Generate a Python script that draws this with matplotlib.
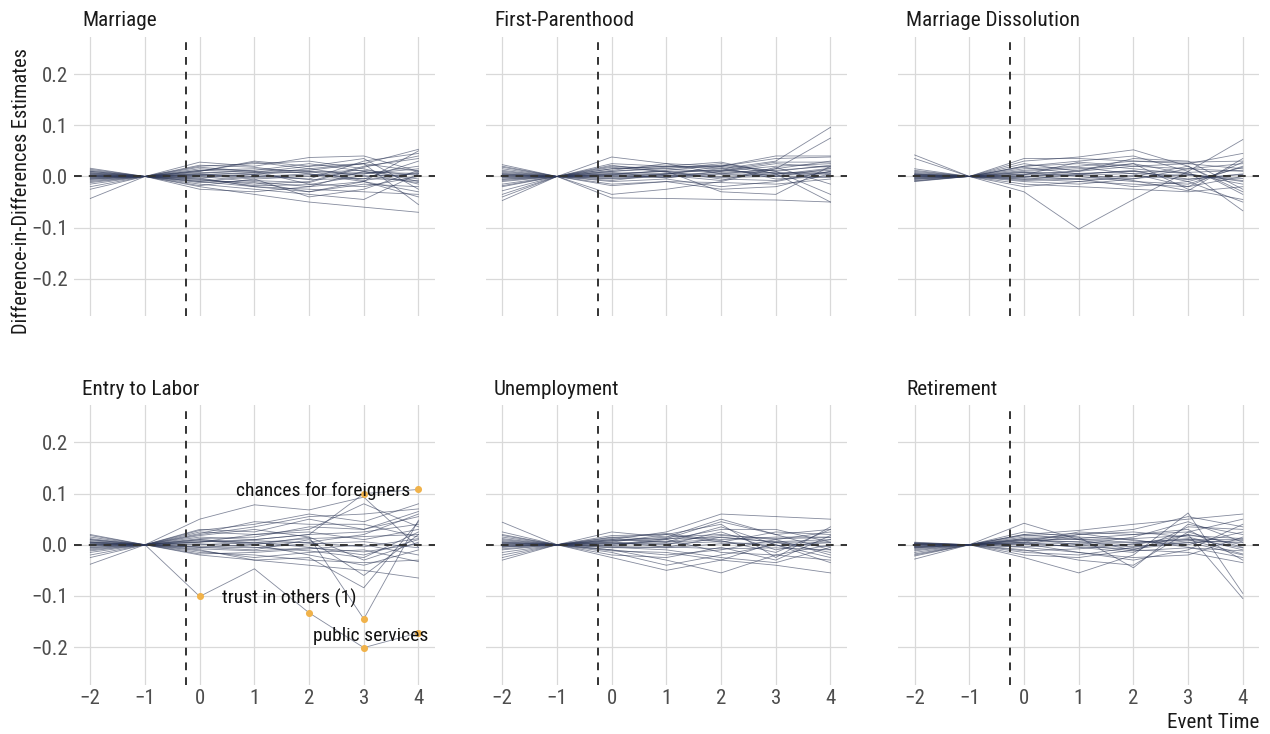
import matplotlib
matplotlib.use("Agg")
import matplotlib.pyplot as plt
from matplotlib import font_manager

names = {f.name for f in font_manager.fontManager.ttflist}
for cand in ["Roboto Condensed", "Liberation Sans Narrow", "Roboto"]:
    if cand in names:
        FONT = cand
        break
else:
    FONT = "DejaVu Sans"
plt.rcParams["font.family"] = [FONT, "DejaVu Sans"]

event_time = [-2, -1, 0, 1, 2, 3, 4]
panel_titles = ["Marriage", "First-Parenthood", "Marriage Dissolution",
                "Entry to Labor", "Unemployment", "Retirement"]
x_tick_labels = ["\u22122", "\u22121", "0", "1", "2", "3", "4"]
y_ticks = [-0.2, -0.1, 0.0, 0.1, 0.2]
y_tick_labels = ["\u22120.2", "\u22120.1", "0.0", "0.1", "0.2"]

marriage = [
    [0.016, 0, 0.018, 0.010, 0.012, 0.025, 0.053],
    [-0.043, 0, -0.010, -0.020, -0.030, -0.010, 0.050],
    [0.010, 0, 0.028, 0.020, 0.037, 0.040, 0.010],
    [0.005, 0, 0.010, 0.030, 0.020, 0.025, -0.055],
    [-0.010, 0, -0.020, -0.035, -0.050, -0.060, -0.070],
    [0.002, 0, 0.005, 0.000, -0.005, 0.030, 0.045],
    [-0.005, 0, -0.015, -0.025, -0.035, -0.045, 0.005],
    [0.008, 0, 0.012, 0.015, 0.010, 0.005, 0.020],
    [-0.003, 0, 0.000, -0.010, -0.020, -0.010, -0.030],
    [0.012, 0, 0.020, 0.025, 0.030, 0.015, -0.010],
    [-0.020, 0, -0.005, -0.015, -0.010, 0.020, 0.035],
    [0.000, 0, 0.008, 0.005, 0.015, 0.025, 0.010],
    [-0.008, 0, -0.010, 0.000, 0.005, -0.010, -0.040],
    [0.004, 0, 0.015, 0.010, -0.015, -0.020, 0.000],
    [-0.012, 0, -0.025, -0.030, -0.020, 0.010, -0.005],
    [0.006, 0, 0.002, -0.005, 0.000, 0.005, 0.015],
    [-0.002, 0, -0.008, -0.012, -0.030, -0.015, -0.020],
    [0.010, 0, 0.022, 0.018, 0.005, -0.005, 0.030],
    [-0.015, 0, 0.003, 0.008, 0.020, 0.035, -0.025],
    [0.003, 0, -0.003, -0.020, -0.025, -0.030, -0.035],
    [-0.006, 0, 0.010, 0.028, 0.015, 0.000, 0.005],
    [0.001, 0, -0.012, -0.008, -0.012, 0.018, 0.040],
    [0.014, 0, 0.006, 0.012, 0.025, 0.010, -0.015],
    [-0.025, 0, -0.018, -0.005, -0.040, -0.025, 0.012],
    [0.002, 0, 0.004, -0.002, 0.003, 0.008, 0.006],
    [-0.004, 0, -0.003, 0.004, -0.006, -0.004, -0.008],
    [0.000, 0, 0.012, 0.008, 0.008, 0.012, 0.002],
    [-0.001, 0, -0.006, -0.018, -0.016, 0.002, -0.012],
    [0.007, 0, 0.001, 0.004, 0.010, -0.008, 0.008],
]

first_parenthood = [
    [0.020, 0, 0.025, 0.020, 0.015, 0.030, 0.096],
    [-0.047, 0, -0.042, -0.043, -0.045, -0.046, -0.050],
    [0.023, 0, 0.038, 0.025, 0.020, 0.035, 0.038],
    [-0.035, 0, -0.035, -0.025, -0.010, 0.015, 0.075],
    [0.010, 0, 0.015, 0.020, 0.028, 0.005, -0.050],
    [-0.020, 0, 0.005, 0.010, -0.030, -0.035, 0.020],
    [0.005, 0, 0.010, 0.018, 0.020, 0.040, 0.040],
    [-0.010, 0, -0.005, 0.000, 0.010, 0.020, 0.025],
    [0.015, 0, 0.020, 0.015, 0.025, 0.010, -0.035],
    [-0.005, 0, 0.000, 0.005, 0.015, 0.000, 0.015],
    [0.000, 0, -0.010, -0.005, -0.020, -0.010, 0.010],
    [-0.028, 0, -0.015, -0.010, -0.025, -0.020, 0.005],
    [0.008, 0, 0.012, 0.025, 0.005, 0.015, 0.030],
    [-0.015, 0, 0.008, -0.003, 0.010, 0.025, 0.018],
    [0.012, 0, 0.018, 0.010, -0.005, -0.008, 0.010],
    [-0.003, 0, 0.003, 0.012, 0.022, 0.010, 0.022],
    [0.003, 0, -0.018, -0.010, -0.012, -0.015, -0.005],
    [-0.040, 0, -0.008, 0.005, 0.000, 0.005, 0.012],
    [0.018, 0, 0.022, 0.008, 0.012, 0.028, 0.028],
    [-0.008, 0, 0.015, 0.020, 0.018, -0.005, 0.000],
    [0.002, 0, -0.002, 0.002, -0.008, 0.018, -0.015],
    [-0.018, 0, 0.010, 0.015, 0.008, 0.012, 0.020],
    [0.001, 0, 0.004, 0.006, 0.004, 0.002, 0.006],
    [-0.002, 0, 0.001, -0.002, 0.006, 0.008, 0.004],
    [0.004, 0, 0.006, 0.010, 0.012, 0.004, 0.016],
    [-0.006, 0, -0.004, 0.002, -0.002, 0.000, -0.002],
    [0.006, 0, 0.002, 0.004, 0.020, 0.006, 0.008],
]

marriage_dissolution = [
    [0.042, 0, -0.030, -0.103, -0.045, 0.010, 0.072],
    [0.035, 0, 0.030, 0.038, 0.052, 0.020, -0.030],
    [0.010, 0, 0.035, 0.035, 0.030, 0.025, 0.045],
    [-0.008, 0, 0.020, 0.030, 0.040, 0.010, -0.067],
    [0.005, 0, -0.020, -0.010, -0.015, -0.020, 0.028],
    [-0.010, 0, 0.010, 0.015, 0.025, -0.025, -0.045],
    [0.002, 0, 0.015, 0.020, 0.030, 0.028, 0.030],
    [-0.005, 0, -0.015, -0.020, -0.025, -0.030, -0.020],
    [0.008, 0, 0.005, 0.010, 0.020, 0.015, 0.010],
    [0.000, 0, -0.005, -0.010, 0.000, 0.020, -0.035],
    [-0.003, 0, 0.008, 0.000, -0.010, -0.015, 0.020],
    [0.012, 0, 0.020, 0.025, 0.015, 0.005, -0.010],
    [-0.006, 0, -0.010, -0.015, -0.005, 0.015, 0.025],
    [0.003, 0, 0.000, 0.005, 0.010, -0.005, 0.005],
    [0.015, 0, 0.025, 0.010, 0.035, 0.030, -0.025],
    [-0.002, 0, 0.012, 0.018, 0.005, -0.020, 0.000],
    [0.006, 0, -0.008, -0.005, -0.020, -0.010, -0.050],
    [-0.009, 0, 0.003, 0.028, 0.020, 0.025, 0.015],
    [0.004, 0, 0.018, 0.005, -0.008, -0.028, 0.035],
    [0.001, 0, -0.002, 0.012, 0.025, 0.005, -0.015],
    [0.002, 0, 0.004, 0.002, 0.006, 0.002, -0.004],
    [-0.001, 0, -0.003, -0.004, 0.002, -0.006, 0.004],
    [0.004, 0, 0.008, 0.006, 0.010, 0.008, 0.012],
    [0.000, 0, 0.001, -0.006, -0.004, 0.004, -0.008],
    [-0.004, 0, -0.006, 0.004, 0.012, -0.010, 0.018],
]

entry_to_labor = [
    [0.005, 0, -0.101, -0.047, -0.133, -0.201, -0.172],
    [0.010, 0, 0.008, 0.000, 0.015, -0.145, 0.048],
    [-0.010, 0, 0.005, 0.010, 0.020, 0.100, 0.108],
    [0.020, 0, 0.050, 0.078, 0.068, 0.093, -0.005],
    [-0.038, 0, 0.028, 0.040, 0.060, 0.045, 0.080],
    [0.015, 0, 0.020, 0.035, 0.055, 0.060, 0.070],
    [-0.005, 0, 0.030, 0.025, 0.050, 0.030, 0.065],
    [0.010, 0, 0.025, 0.020, 0.030, 0.080, 0.035],
    [0.000, 0, -0.010, -0.030, -0.025, -0.084, 0.045],
    [-0.020, 0, -0.020, -0.030, -0.040, -0.050, -0.065],
    [0.005, 0, -0.015, -0.020, -0.030, -0.035, -0.030],
    [-0.012, 0, -0.005, -0.010, 0.010, -0.060, 0.020],
    [0.008, 0, 0.012, 0.015, 0.035, 0.030, 0.055],
    [-0.008, 0, 0.000, 0.005, -0.005, -0.020, 0.010],
    [0.012, 0, 0.015, 0.010, 0.020, 0.025, 0.040],
    [-0.015, 0, -0.012, -0.025, -0.015, -0.010, -0.033],
    [0.003, 0, 0.005, 0.020, 0.025, 0.010, 0.030],
    [-0.003, 0, 0.018, 0.030, 0.015, -0.030, 0.005],
    [0.006, 0, -0.005, 0.000, -0.020, -0.040, -0.010],
    [-0.025, 0, 0.010, 0.002, 0.005, 0.020, 0.060],
    [0.018, 0, 0.022, 0.045, 0.040, 0.040, 0.015],
    [-0.006, 0, -0.018, -0.015, -0.008, 0.000, -0.020],
    [0.001, 0, 0.002, -0.005, -0.012, -0.025, 0.025],
    [0.002, 0, 0.006, 0.008, 0.004, -0.004, 0.012],
    [-0.002, 0, -0.004, -0.006, 0.002, 0.006, -0.006],
    [0.004, 0, 0.010, 0.004, 0.012, 0.016, 0.020],
    [0.000, 0, -0.008, -0.012, -0.006, -0.014, 0.002],
]

unemployment = [
    [0.044, 0, -0.010, -0.030, -0.055, -0.020, -0.030],
    [-0.030, 0, 0.010, 0.025, 0.060, 0.055, 0.050],
    [0.025, 0, 0.025, 0.015, 0.050, 0.020, 0.030],
    [0.015, 0, -0.025, -0.050, -0.030, -0.040, -0.055],
    [-0.015, 0, 0.005, 0.020, 0.040, -0.025, 0.035],
    [0.010, 0, 0.015, 0.010, 0.030, 0.030, 0.005],
    [-0.005, 0, -0.010, -0.020, -0.010, 0.010, -0.020],
    [0.005, 0, 0.008, 0.015, 0.020, 0.010, 0.025],
    [-0.010, 0, -0.015, -0.040, -0.020, 0.000, -0.035],
    [0.020, 0, 0.012, 0.005, 0.010, 0.015, 0.015],
    [0.000, 0, 0.003, 0.000, 0.025, -0.010, 0.010],
    [-0.020, 0, -0.005, -0.010, -0.025, -0.035, -0.005],
    [0.008, 0, 0.018, 0.020, 0.005, 0.025, 0.020],
    [-0.003, 0, -0.002, 0.010, -0.015, -0.020, 0.000],
    [0.012, 0, 0.006, -0.005, 0.015, 0.005, -0.015],
    [-0.008, 0, 0.010, 0.005, 0.035, 0.000, -0.025],
    [0.003, 0, -0.020, -0.025, -0.005, -0.030, 0.018],
    [0.018, 0, 0.000, 0.012, 0.045, 0.020, -0.010],
    [-0.025, 0, -0.012, -0.015, -0.030, 0.005, 0.005],
    [0.006, 0, 0.014, 0.022, 0.008, -0.015, 0.030],
    [0.002, 0, 0.004, 0.002, 0.006, -0.002, 0.004],
    [-0.002, 0, -0.003, -0.006, 0.002, 0.004, -0.004],
    [0.004, 0, 0.008, 0.012, 0.014, 0.006, 0.010],
    [0.000, 0, -0.006, -0.004, -0.008, -0.006, -0.010],
    [-0.004, 0, 0.002, 0.006, 0.018, 0.012, 0.014],
]

retirement = [
    [0.005, 0, 0.042, 0.010, -0.010, 0.020, -0.105],
    [-0.028, 0, -0.025, -0.055, -0.020, 0.062, -0.095],
    [0.003, 0, 0.020, 0.028, 0.040, 0.050, 0.060],
    [-0.005, 0, 0.010, 0.020, 0.030, 0.055, 0.035],
    [-0.010, 0, 0.015, 0.015, -0.045, 0.040, 0.020],
    [0.000, 0, -0.010, -0.030, -0.040, 0.025, 0.050],
    [-0.015, 0, 0.005, 0.025, 0.020, 0.030, -0.030],
    [0.002, 0, 0.020, 0.010, 0.005, 0.010, 0.010],
    [-0.020, 0, -0.020, -0.025, -0.010, -0.015, -0.035],
    [-0.003, 0, 0.010, 0.005, 0.000, 0.020, 0.000],
    [0.004, 0, 0.025, 0.015, 0.010, -0.005, -0.025],
    [-0.008, 0, -0.005, -0.015, -0.025, -0.020, 0.015],
    [-0.012, 0, 0.012, 0.000, 0.015, 0.045, 0.005],
    [0.001, 0, 0.000, 0.020, 0.025, 0.015, -0.010],
    [-0.006, 0, 0.018, 0.022, 0.008, 0.000, 0.025],
    [-0.018, 0, -0.012, -0.008, 0.002, 0.010, -0.018],
    [0.000, 0, 0.005, -0.005, -0.015, 0.035, 0.030],
    [-0.004, 0, 0.008, 0.012, 0.020, 0.025, -0.005],
    [-0.022, 0, 0.002, -0.015, -0.030, -0.010, 0.040],
    [0.003, 0, -0.015, -0.020, -0.005, 0.005, -0.020],
    [-0.002, 0, 0.004, 0.002, -0.004, 0.008, 0.004],
    [0.001, 0, 0.008, 0.006, 0.004, 0.012, -0.006],
    [-0.006, 0, 0.002, -0.004, -0.008, 0.004, 0.008],
    [-0.003, 0, 0.012, 0.010, 0.012, 0.018, 0.012],
    [0.002, 0, -0.004, 0.000, -0.012, -0.006, -0.012],
]

panels = [marriage, first_parenthood, marriage_dissolution,
          entry_to_labor, unemployment, retirement]

# highlighted outcomes in the "Entry to Labor" panel (row index -> label)
labor_label_rows = [2, 0, 1]
labor_labels = ["chances for foreigners", "trust in others (1)", "public services"]
highlight_threshold = 0.099

W, H = 1270, 734
fig = plt.figure(figsize=(W / 100, H / 100), dpi=100)

LINE_COLOR = "#2c3656"
ORANGE = "#f0b24a"
GRID = "#d9d9d9"
TICK_COLOR = "#4d4d4d"
DASH = (0, (4, 3.6))
lefts = [73.9, 485.9, 898.2]
pw = 361.0
tops = [36.7, 405.0]
ph = 279.5

label_pos = {"chances for foreigners": (3.85, 0.106, "right"),
             "trust in others (1)": (0.40, -0.104, "left"),
             "public services": (2.07, -0.179, "left")}

for i, (title, data) in enumerate(zip(panel_titles, panels)):
    r, c = divmod(i, 3)
    ax = fig.add_axes([lefts[c] / W, 1 - (tops[r] + ph) / H, pw / W, ph / H])
    ax.set_xlim(-2.3, 4.3)
    ax.set_ylim(-0.273, 0.273)
    for s in ax.spines.values():
        s.set_visible(False)
    ax.set_xticks(event_time)
    ax.set_yticks(y_ticks)
    ax.grid(True, color=GRID, linewidth=0.9)
    ax.set_axisbelow(True)
    ax.tick_params(length=0, labelsize=15, colors=TICK_COLOR)
    ax.tick_params(axis="x", pad=3.5)
    ax.tick_params(axis="y", pad=4.3)
    if r == 0:
        ax.tick_params(labelbottom=False)
    else:
        ax.set_xticklabels(x_tick_labels)
    if c != 0:
        ax.tick_params(labelleft=False)
    else:
        ax.set_yticklabels(y_tick_labels)
    for row in data:
        ax.plot(event_time, row, color=LINE_COLOR, alpha=0.58, lw=0.6, zorder=2)
    ax.axhline(0, color="#333333", lw=1.4, ls=DASH, zorder=3)
    ax.axvline(-0.25, color="#333333", lw=1.4, ls=DASH, zorder=3)
    ax.text(8 / pw, 1 + 10.5 / ph, title, transform=ax.transAxes, fontsize=15.3,
            ha="left", va="baseline", color="#1a1a1a")
    if title == "Entry to Labor":
        for idx, lab in zip(labor_label_rows, labor_labels):
            row = data[idx]
            xs = [t for t, v in zip(event_time, row) if abs(v) >= highlight_threshold]
            ys = [v for v in row if abs(v) >= highlight_threshold]
            ax.scatter(xs, ys, s=26, color=ORANGE, zorder=4, linewidths=0)
            lx, ly, ha = label_pos[lab]
            ax.text(lx, ly, lab, fontsize=14, ha=ha, va="center", color="#111111", zorder=5)

fig.text(22 / W, 1 - 191 / H, "Difference-in-Differences Estimates", rotation=90,
         ha="center", va="center", fontsize=14.7, color="#1a1a1a")
fig.text(1259 / W, 1 - 728 / H, "Event Time", ha="right", va="baseline",
         fontsize=15.2, color="#1a1a1a")

fig.savefig("out.png", dpi=100, facecolor="white")
